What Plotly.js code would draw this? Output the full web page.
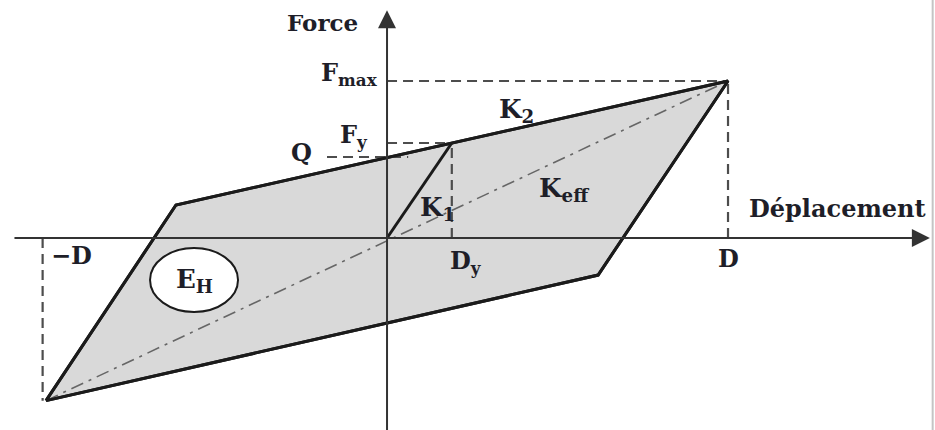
<!DOCTYPE html>
<html>
<head>
<meta charset="utf-8">
<script src="https://cdn.plot.ly/plotly-3.0.1.min.js"></script>
<style>html,body{margin:0;padding:0;background:#fff;}#chart{width:935px;height:430px;}</style>
</head>
<body>
<div id="chart"></div>
<script>
// ---- Data (normalised units: D = 1, Fmax = 1) ----
const D = 1.0;
const negD = -1.01;
const Dy = 0.19;
const Fmax = 1.0;
const Fy = 0.605;
const Q = 0.516;
// hysteresis loop vertices (closed)
const loopX = [-1.0, -0.619, 1.0, 0.619, -1.0];
const loopY = [-1.036, 0.21, 1.0, -0.236, -1.036];
// initial stiffness K1 : origin -> yield point
const k1X = [0, Dy];
const k1Y = [0, Fy];
// effective stiffness Keff : (-D,-Fmin) -> (D,Fmax)
const keffX = [-1.0, 1.0];
const keffY = [-1.036, 1.0];

const ink = '#1b1b1b';
const grey = '#4d4d4d';

function line(x, y, color, width, dash) {
  return {type: 'scatter', mode: 'lines', x: x, y: y, hoverinfo: 'skip',
          showlegend: false, line: {color: color, width: width, dash: dash || 'solid'}};
}

const traces = [
  {type: 'scatter', mode: 'lines', x: loopX, y: loopY, fill: 'toself',
   fillcolor: '#d9d9d9', line: {color: ink, width: 3}, hoverinfo: 'skip', showlegend: false},
  // dashed guides
  line([0, D], [Fmax, Fmax], grey, 2.2, '10px,6px'),
  line([D, D], [0, Fmax], grey, 2.2, '10px,6px'),
  line([0, Dy], [Fy, Fy], grey, 2.2, '10px,6px'),
  line([Dy, Dy], [0, Fy], grey, 2.2, '10px,6px'),
  line([-0.176, 0.062], [Q, Q], grey, 2.2, '10px,6px'),
  line([negD, negD], [0, -1.036], grey, 2.2, '10px,6px'),
  // Keff dash-dot
  line(keffX, keffY, '#666', 1.6, '13px,6px,3px,6px'),
  // K1
  line(k1X, k1Y, ink, 3),
  // redraw loop outline on top
  line(loopX, loopY, ink, 3)
];

function lab(text, x, y, xa, size) {
  return {text: '<b>' + text + '</b>', x: x, y: y, xref: 'x', yref: 'y', showarrow: false,
          xanchor: xa || 'center', yanchor: 'middle',
          font: {family: 'DejaVu Serif', size: size || 24, color: '#1e1e28'}};
}

const annotations = [
  // axes with arrow heads
  {x: 1.592, y: 0, ax: -1.097, ay: 0, xref: 'x', yref: 'y', axref: 'x', ayref: 'y',
   text: '', showarrow: true, arrowhead: 2, arrowsize: 1.8, arrowwidth: 2, arrowcolor: '#333', standoff: 0},
  {x: 0, y: 1.45, ax: 0, ay: -1.35, xref: 'x', yref: 'y', axref: 'x', ayref: 'y',
   text: '', showarrow: true, arrowhead: 2, arrowsize: 1.8, arrowwidth: 2, arrowcolor: '#333', standoff: 0},
  lab('Force', -0.19, 1.37, 'center', 23),
  lab('F<sub>max</sub>', -0.022, 1.045, 'right'),
  lab('F<sub>y</sub>', -0.05, 0.65, 'right'),
  lab('Q', -0.215, 0.545, 'right'),
  lab('K<sub>2</sub>', 0.322, 0.815, 'left', 26),
  lab('K<sub>1</sub>', 0.09, 0.19, 'left', 26),
  lab('K<sub>eff</sub>', 0.44, 0.31, 'left', 26),
  lab('Déplacement', 1.055, 0.185, 'left'),
  lab('D', 1.0, -0.13, 'center'),
  lab('D<sub>y</sub>', 0.178, -0.15, 'left'),
  lab('\u2212D', -0.99, -0.11, 'left'),
  lab('E<sub>H</sub>', -0.566, -0.27, 'center', 26)
];

const shapes = [
  {type: 'circle', xref: 'x', yref: 'y', x0: -0.695, x1: -0.437, y0: -0.471, y1: -0.064,
   fillcolor: '#ffffff', line: {color: ink, width: 2}},
  {type: 'line', xref: 'paper', yref: 'paper', x0: 0.9975, x1: 0.9975, y0: 0, y1: 1,
   line: {color: '#c4c4c4', width: 2}}
];

const layout = {
  width: 935, height: 430,
  margin: {l: 0, r: 0, t: 0, b: 0},
  paper_bgcolor: '#ffffff', plot_bgcolor: '#ffffff',
  font: {family: 'DejaVu Serif', size: 24},
  xaxis: {range: [-1.135, 1.607], visible: false, fixedrange: true},
  yaxis: {range: [-1.223, 1.516], visible: false, fixedrange: true},
  showlegend: false,
  annotations: annotations,
  shapes: shapes
};

Plotly.newPlot('chart', traces, layout, {displayModeBar: false});
</script>
</body>
</html>
